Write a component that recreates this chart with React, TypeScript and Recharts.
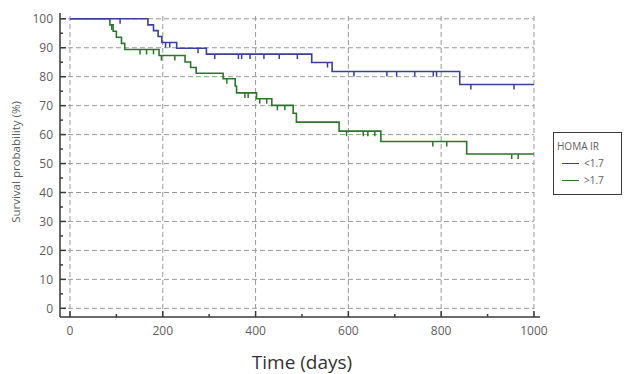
import React from 'react'
import { ComposedChart, Line, Scatter, XAxis, YAxis, ReferenceLine } from 'recharts'

// HOMA IR < 1.7 : step times (days) and survival (%)
const lowTimes = [0, 168, 180, 190, 198, 230, 294, 521, 565, 840, 1000]
const lowSurv = [100, 97.9, 95.9, 93.9, 91.8, 89.8, 87.8, 84.9, 81.8, 77.3, 77.3]
const lowCensored = [108, 206, 215, 276, 312, 363, 370, 388, 418, 451, 490, 555, 612, 683, 704, 743, 783, 790, 864, 957]

// HOMA IR > 1.7
const highTimes = [0, 86, 93, 100, 111, 118, 192, 248, 260, 272, 330, 356, 359, 402, 435, 481, 488, 580, 670, 855, 1000]
const highSurv = [100, 97.9, 95.7, 93.6, 91.5, 89.4, 87.3, 85.1, 83.2, 81.2, 79.3, 76.8, 74.4, 72.4, 70.1, 67.4, 64.3, 61.2, 57.6, 53.3, 53.3]
const highCensored = [90, 151, 165, 180, 197, 226, 338, 377, 384, 409, 424, 447, 463, 596, 632, 642, 657, 782, 812, 952, 966]

const xTicks = [0, 100, 200, 300, 400, 500, 600, 700, 800, 900, 1000]
const yTicks = [0, 5, 10, 15, 20, 25, 30, 35, 40, 45, 50, 55, 60, 65, 70, 75, 80, 85, 90, 95, 100]
const xGrid = [0, 200, 400, 600, 800, 1000]
const yGrid = [0, 10, 20, 30, 40, 50, 60, 70, 80, 90, 100]

const BLUE = '#3c3f9c'
const GREEN = '#2c762c'
const AXIS = '#3a3a3a'
const GRID = '#9a9a9a'
const TEXT = '#5e5e5e'
const FONT = '"Open Sans", sans-serif'

const X_MIN = -21.5
const X_MAX = 1013
const Y_MIN = -3
const Y_MAX = 102

const survAt = (times: number[], surv: number[], t: number) => {
  let v = surv[0]
  for (let i = 0; i < times.length; i++) {
    if (times[i] <= t) v = surv[i]
  }
  return v
}

const toSteps = (times: number[], surv: number[]) =>
  times.map((t, i) => ({ t, s: surv[i] }))

const toCensors = (times: number[], surv: number[], cens: number[]) =>
  cens.map((t) => ({ t, s: survAt(times, surv, t) }))

const lowData = toSteps(lowTimes, lowSurv)
const highData = toSteps(highTimes, highSurv)
const lowCens = toCensors(lowTimes, lowSurv, lowCensored)
const highCens = toCensors(highTimes, highSurv, highCensored)

const XTick = (props: any) => {
  const { x, y, payload } = props
  const major = payload.value % 200 === 0
  return (
    <g>
      <line x1={x} x2={x} y1={y} y2={y - (major ? 6 : 3)} stroke={AXIS} strokeWidth={1.5} />
      {major && (
        <text x={x} y={y + 13} textAnchor="middle" dominantBaseline="central" fill={TEXT} fontSize={12} fontFamily={FONT}>
          {payload.value}
        </text>
      )}
    </g>
  )
}

const YTick = (props: any) => {
  const { x, y, payload } = props
  const major = payload.value % 10 === 0
  return (
    <g>
      <line x1={x} x2={x + (major ? 6 : 3)} y1={y} y2={y} stroke={AXIS} strokeWidth={1.5} />
      {major && (
        <text x={x - 7} y={y} textAnchor="end" dominantBaseline="central" fill={TEXT} fontSize={12} fontFamily={FONT}>
          {payload.value}
        </text>
      )}
    </g>
  )
}

const YTitle = (props: any) => {
  const { viewBox } = props
  const cx = viewBox.x - 5
  const cy = viewBox.y + viewBox.height / 2 - 3
  return (
    <text x={cx} y={cy} transform={`rotate(-90 ${cx} ${cy})`} textAnchor="middle" dominantBaseline="central" fill={TEXT} fontSize={11.5} fontFamily={FONT}>
      Survival probability (%)
    </text>
  )
}

const XTitle = (props: any) => {
  const { viewBox } = props
  return (
    <text x={viewBox.x + viewBox.width / 2 + 2} y={viewBox.y + 45} textAnchor="middle" dominantBaseline="central" fill="#333" fontSize={19} fontFamily={FONT}>
      Time (days)
    </text>
  )
}

const censorMark = (color: string) => (p: any) =>
  <line x1={p.cx} x2={p.cx} y1={p.cy} y2={p.cy + 5} stroke={color} strokeWidth={1.5} />

export default function App() {
  return (
    <div style={{ position: 'absolute', left: 0, top: 0, width: 633, height: 374, background: '#fff' }}>
      <ComposedChart width={633} height={374} margin={{ top: 13, right: 93, left: 20, bottom: 27 }}>
        <XAxis
          type="number"
          dataKey="t"
          domain={[X_MIN, X_MAX]}
          ticks={xTicks}
          interval={0}
          tick={(p: any) => <XTick {...p} />}
          tickLine={false}
          tickSize={0}
          tickMargin={0}
          height={30}
          axisLine={{ stroke: AXIS, strokeWidth: 1.5 }}
          label={(p: any) => <XTitle {...p} />}
        />
        <YAxis
          type="number"
          dataKey="s"
          domain={[Y_MIN, Y_MAX]}
          ticks={yTicks}
          interval={0}
          tick={(p: any) => <YTick {...p} />}
          tickLine={false}
          tickSize={0}
          tickMargin={0}
          width={40}
          axisLine={{ stroke: AXIS, strokeWidth: 1.5 }}
          label={(p: any) => <YTitle {...p} />}
        />
        {yGrid.map((v) => (
          <ReferenceLine
            key={'h' + v}
            segment={[{ x: X_MIN, y: v }, { x: 1000, y: v }]}
            stroke={GRID}
            strokeDasharray="5 3"
          />
        ))}
        {xGrid.map((v) => (
          <ReferenceLine
            key={'v' + v}
            segment={[{ x: v, y: Y_MIN }, { x: v, y: Y_MAX }]}
            stroke={GRID}
            strokeDasharray="5 3"
          />
        ))}
        <Line data={highData} dataKey="s" type="stepAfter" stroke={GREEN} strokeWidth={1.6} dot={false} isAnimationActive={false} />
        <Line data={lowData} dataKey="s" type="stepAfter" stroke={BLUE} strokeWidth={1.6} dot={false} isAnimationActive={false} />
        <Scatter data={highCens} shape={censorMark(GREEN)} isAnimationActive={false} />
        <Scatter data={lowCens} shape={censorMark(BLUE)} isAnimationActive={false} />
      </ComposedChart>
      <div
        style={{
          position: 'absolute',
          left: 553,
          top: 132,
          width: 69,
          height: 63,
          border: `1.5px solid ${AXIS}`,
          background: '#fff',
          fontFamily: FONT,
          fontSize: 10,
          color: TEXT,
          padding: '5px 0 0 3px',
          boxSizing: 'border-box',
          lineHeight: '17px',
        }}
      >
        <div>HOMA IR</div>
        <div style={{ display: 'flex', alignItems: 'center' }}>
          <span style={{ display: 'inline-block', width: 17, height: 0, borderTop: `1.5px solid ${BLUE}`, margin: '0 5px 0 5px' }} />
          &lt;1.7
        </div>
        <div style={{ display: 'flex', alignItems: 'center' }}>
          <span style={{ display: 'inline-block', width: 17, height: 0, borderTop: `1.5px solid ${GREEN}`, margin: '0 5px 0 5px' }} />
          &gt;1.7
        </div>
      </div>
    </div>
  )
}
